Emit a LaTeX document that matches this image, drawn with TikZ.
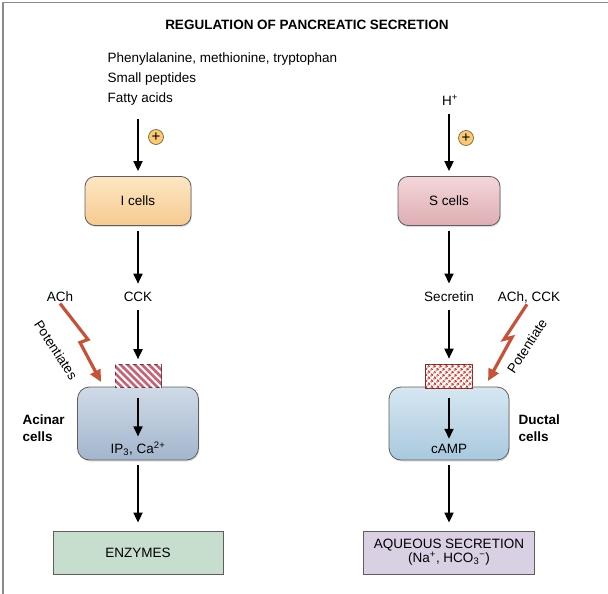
\documentclass[tikz,border=0pt]{standalone}
\usepackage{fontspec}
\setmainfont{Liberation Sans}
\usetikzlibrary{arrows.meta,patterns,patterns.meta,shadows}
\definecolor{boxedge}{HTML}{5E5E5E}
\definecolor{frameg}{HTML}{8A8A8A}
\definecolor{boltred}{HTML}{C4533A}
\definecolor{plusfill}{HTML}{F8C978}
\definecolor{plusedge}{HTML}{7A5A20}
\definecolor{recpink}{HTML}{C66477}
\definecolor{recred}{HTML}{CB4A3E}
\definecolor{itop}{HTML}{FDE6C4}
\definecolor{ibot}{HTML}{F6CB90}
\definecolor{stop}{HTML}{F4D6D8}
\definecolor{sbot}{HTML}{DDAEB3}
\definecolor{atop}{HTML}{CFDAE7}
\definecolor{abot}{HTML}{A3B6CD}
\definecolor{dtop}{HTML}{D6E7F2}
\definecolor{dbot}{HTML}{A9C8DE}
\definecolor{enzfill}{HTML}{C7DDCD}
\definecolor{aqfill}{HTML}{D9D0E4}

\begin{document}
\begin{tikzpicture}[x=1pt,y=-1pt,
  every node/.style={font=\fontsize{13.5}{15.5}\selectfont},
  flow/.style={-{Triangle[length=10pt,width=9pt]},line width=1.8pt,shorten >=5pt,shorten <=5pt},
  cellbox/.style={draw=boxedge,line width=0.8pt,rounded corners=10pt,minimum height=49pt,
    drop shadow={opacity=0.25,shadow xshift=0.8pt,shadow yshift=-1.6pt}},
  bigcell/.style={draw=boxedge,line width=0.8pt,rounded corners=12pt,minimum width=121pt,minimum height=73pt,
    drop shadow={opacity=0.25,shadow xshift=0.8pt,shadow yshift=-1.6pt}},
  endbox/.style={draw=boxedge,line width=0.8pt,minimum width=171pt,minimum height=43pt,align=center,inner sep=1pt},
  recept/.style={line width=0.6pt,minimum width=46pt,minimum height=23pt,inner sep=0pt},
  bolt/.style={-{Triangle[length=12pt,width=11pt]},line width=3.2pt,draw=boltred,line join=miter},
  plussign/.style={circle,draw=plusedge,line width=0.6pt,fill=plusfill,inner sep=0pt,minimum size=15pt,font=\fontsize{15}{15}\selectfont},
  celllabel/.style={anchor=west,align=left,font=\fontsize{13.5}{17}\selectfont\bfseries}]
  \useasboundingbox (0,0) rectangle (608,594);
  % frame (top and left edge only)
  \draw[frameg,line width=1.6pt] (3,594) -- (3,2.5) -- (608,2.5);
  \node[font=\fontsize{13.5}{15.5}\selectfont\bfseries] (title) at (307,25) {REGULATION OF PANCREATIC SECRETION};

  % stimuli
  \node[anchor=west] (phe) at (104,59) {Phenylalanine, methionine, tryptophan};
  \node[anchor=west] (pep) at (104,79) {Small peptides};
  \node[anchor=west] (fat) at (104,99) {Fatty acids};
  \node (hplus) at (450,100) {H\textsuperscript{+}};
  \coordinate (srcI) at (138,114);

  % endocrine cells
  \node[cellbox,minimum width=106pt,top color=itop,bottom color=ibot] (icells) at (138,201) {I cells};
  \node[cellbox,minimum width=102pt,top color=stop,bottom color=sbot] (scells) at (449,201) {S cells};
  \node[plussign] (plusI) at (156,137) {\raisebox{0.6pt}{+}};
  \node[plussign] (plusS) at (466,138) {\raisebox{0.6pt}{+}};
  \draw[flow] (srcI) -- (icells.north);
  \draw[flow] (hplus.south -| scells) -- (scells.north);

  % hormones
  \node (cck) at (138,297) {CCK};
  \node (secretin) at (449,297) {Secretin};
  \node (achL) at (60,297) {ACh};
  \node (achR) at (529,297) {ACh, CCK};
  \draw[flow] (icells.south) -- (cck.north);
  \draw[flow] (scells.south) -- (secretin.north);

  % target cells
  \node[bigcell,top color=atop,bottom color=abot] (acinar) at (138,423.5) {};
  \node[bigcell,minimum width=120pt,top color=dtop,bottom color=dbot] (ductal) at (449,423.5) {};
  \node[recept,draw=recpink!55!black,fill=recpink,postaction={pattern={Lines[angle=-45,distance=5pt,line width=2pt]},pattern color=white}] (recL) at (138,376) {};
  \node[recept,fill=white,minimum width=47pt,minimum height=24pt,draw=recred!55!black,postaction={pattern={Dots[distance=4pt,radius=1.5pt,angle=45]},pattern color=recred}] (recR) at (449,376) {};
  \draw[flow] (cck.south) -- (recL.north);
  \draw[flow] (secretin.south) -- (recR.north);
  \node (ipca) at (138,449) {IP\textsubscript{3}, Ca\textsuperscript{2+}};
  \node (camp) at (449,449) {cAMP};
  \draw[flow,shorten <=0pt,shorten >=2pt] ([yshift=-11pt]acinar.north) -- (ipca.north);
  \draw[flow,shorten <=0pt,shorten >=2pt] ([yshift=-11pt]ductal.north) -- (camp.north);
  \node[celllabel] (acinarlbl) at (19,428) {Acinar\\cells};
  \node[celllabel] (ductallbl) at (515,428) {Ductal\\cells};

  % potentiation
  \coordinate (tipL) at (101,382);
  \coordinate (tipR) at (488,381);
  \draw[bolt] ([yshift=2pt]achL.south) -- ++(28,36) -- ++(-8,3) -- (tipL);
  \draw[bolt] ([xshift=-2pt,yshift=2pt]achR.south) -- ++(-23,35) -- ++(8,-2) -- (tipR);
  \node[rotate=-57] (potL) at (56,350) {Potentiates};
  \node[rotate=57] (potR) at (527,346) {Potentiate};

  % products
  \node[endbox,minimum width=170pt,fill=enzfill] (enzymes) at (138,552.5) {ENZYMES};
  \node[endbox,fill=aqfill] (aqueous) at (449,552.5) {AQUEOUS SECRETION\\[-1.5pt](Na\textsuperscript{+}, HCO\textsubscript{3}\textsuperscript{−})};
  \draw[flow,shorten >=8pt] (acinar.south) -- (enzymes.north);
  \draw[flow,shorten >=8pt] (ductal.south) -- (aqueous.north);
\end{tikzpicture}
\end{document}
